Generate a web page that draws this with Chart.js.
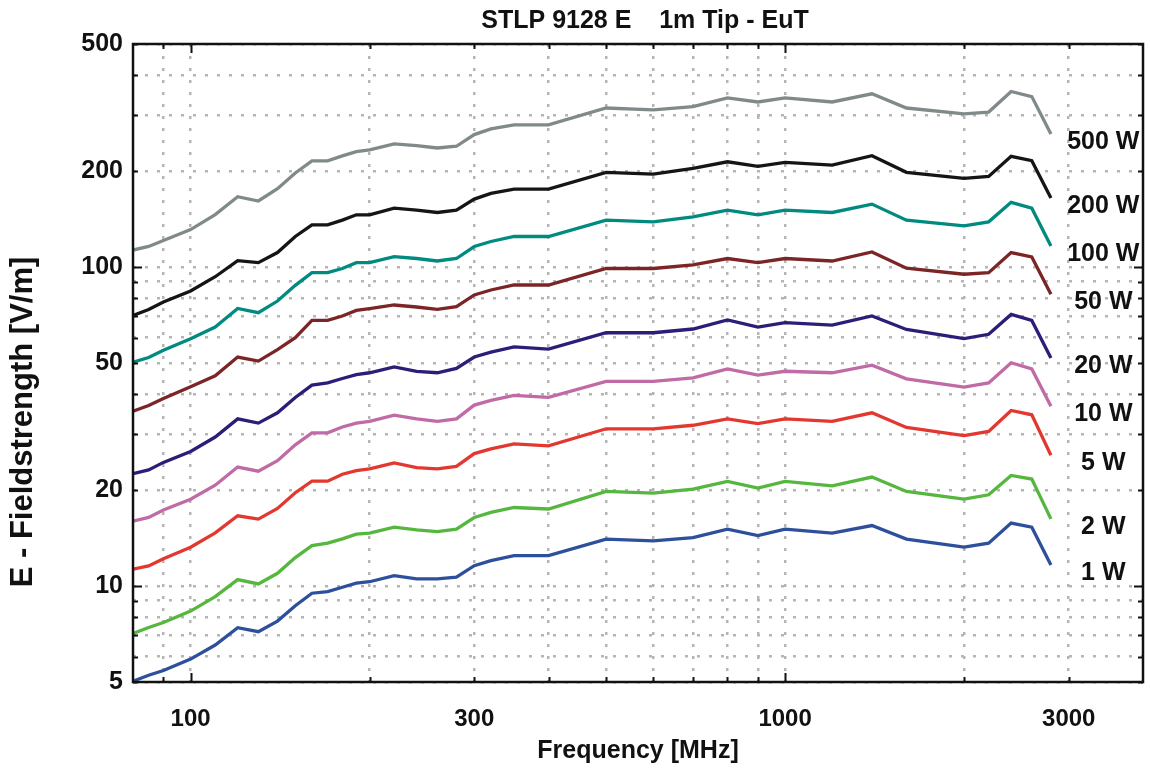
<!DOCTYPE html>
<html>
<head>
<meta charset="utf-8">
<script src="https://cdn.jsdelivr.net/npm/chart.js@4"></script>
<style>
html,body{margin:0;padding:0;background:#fff;}
#wrap{width:1150px;height:769px;position:relative;}
</style>
</head>
<body>
<div id="wrap"><canvas id="c" width="1150" height="769"></canvas></div>
<script>
// ---------- data ----------
const frequencies = [80, 85, 90, 100, 110, 120, 130, 140, 150, 160, 170, 180, 190, 200, 220, 240, 260, 280, 300, 320, 350, 400, 500, 600, 700, 800, 900, 1000, 1200, 1400, 1600, 2000, 2200, 2400, 2600, 2800];

const e500W = [113, 116, 121, 131, 146, 166, 161, 176, 197, 215, 215, 223, 230, 233, 243, 240, 236, 239, 260, 271, 279, 279, 315, 311, 318, 339, 329, 339, 329, 349, 315, 302, 306, 355, 342, 261];
const e200W = [70.5, 73.6, 77.7, 84.1, 93.2, 104.7, 103.2, 111, 124.6, 135.5, 135.5, 140.2, 145.7, 145.7, 152.9, 150.7, 148.2, 150.7, 163.2, 170.1, 175.5, 175.5, 198, 195.6, 203.8, 213.7, 206.7, 212.8, 208.7, 223.2, 198, 189.6, 192.3, 222.3, 215.3, 164.4];
const e100W = [50.3, 52.0, 54.8, 59.6, 64.8, 74.1, 71.9, 78.2, 87.6, 96.0, 96.0, 98.9, 103.2, 103.2, 107.8, 106.3, 104.4, 106.3, 115.9, 120.2, 124.6, 124.6, 140.2, 138.5, 143.6, 150.7, 145.7, 150.7, 148.2, 157.4, 140.2, 134.5, 138.5, 159.4, 152.9, 116.4];
const e50W = [35.3, 36.8, 38.7, 42.1, 45.6, 52.2, 50.7, 55.1, 60.0, 68.0, 68.0, 70.2, 73.1, 74.0, 76.0, 74.9, 73.6, 75.1, 81.7, 84.7, 87.8, 87.8, 98.9, 98.9, 101.5, 106.3, 103.2, 106.3, 104.4, 111.5, 99.1, 94.9, 96.0, 111.0, 107.5, 82.1];
const e20W = [22.5, 23.1, 24.4, 26.4, 29.3, 33.4, 32.4, 34.9, 39.0, 42.6, 43.3, 44.7, 46.0, 46.6, 48.6, 47.1, 46.6, 48.1, 52.2, 54.1, 56.2, 55.3, 62.2, 62.2, 63.9, 68.2, 64.8, 66.9, 65.7, 70.2, 63.7, 59.6, 61.5, 71.0, 68.0, 51.8];
const e10W = [15.97, 16.4, 17.3, 18.7, 20.7, 23.6, 22.9, 24.7, 27.7, 30.2, 30.2, 31.5, 32.4, 32.8, 34.3, 33.4, 32.8, 33.4, 36.9, 38.2, 39.6, 39.0, 43.8, 43.8, 44.9, 47.9, 45.8, 47.1, 46.6, 49.2, 44.6, 42.0, 43.3, 50.1, 47.9, 36.6];
const e5W = [11.29, 11.56, 12.18, 13.23, 14.67, 16.6, 16.2, 17.5, 19.6, 21.3, 21.3, 22.4, 23.0, 23.3, 24.3, 23.5, 23.3, 23.7, 26.0, 26.9, 27.9, 27.5, 31.1, 31.1, 31.9, 33.4, 32.3, 33.4, 32.8, 34.9, 31.4, 29.6, 30.5, 35.5, 34.4, 25.7];
const e2W = [7.10, 7.41, 7.68, 8.34, 9.26, 10.47, 10.15, 10.96, 12.27, 13.38, 13.62, 14.05, 14.54, 14.64, 15.29, 14.99, 14.81, 15.07, 16.39, 17.0, 17.62, 17.43, 19.78, 19.55, 20.13, 21.27, 20.27, 21.27, 20.61, 21.95, 19.78, 18.73, 19.31, 22.21, 21.64, 16.23];
const e1W = [5.03, 5.25, 5.43, 5.90, 6.53, 7.40, 7.19, 7.76, 8.67, 9.49, 9.60, 9.91, 10.2, 10.31, 10.77, 10.52, 10.52, 10.65, 11.58, 12.01, 12.45, 12.45, 14.02, 13.85, 14.18, 15.07, 14.39, 15.07, 14.64, 15.47, 14.02, 13.23, 13.62, 15.74, 15.29, 11.64];

const seriesNames = ['500 W', '200 W', '100 W', '50 W', '20 W', '10 W', '5 W', '2 W', '1 W'];
const seriesValues = [e500W, e200W, e100W, e50W, e20W, e10W, e5W, e2W, e1W];
const seriesColors = ['#808a8a', '#151515', '#008a80', '#7b2527', '#2b1d78', '#c06aa6', '#e2382f', '#55b73e', '#2e4f9c'];

const xGridValues = [90, 100, 200, 300, 400, 500, 600, 700, 800, 900, 1000, 2000, 3000];
const xMajorValues = [100, 1000];
const xLabelValues = [100, 300, 1000, 3000];
const yGridValues = [5, 6, 7, 8, 9, 10, 20, 30, 40, 50, 60, 70, 80, 90, 100, 200, 300, 400, 500];
const yMajorValues = [10, 100];
const yLabelValues = [5, 10, 20, 50, 100, 200, 500];

const titleText = 'STLP 9128 E    1m Tip - EuT';
const xTitleText = 'Frequency [MHz]';
const yTitleText = 'E - Fieldstrength [V/m]';
const seriesLabelFreq = 3430;

// ---------- chart ----------
const FONT = '"Liberation Sans", Arial, Helvetica, sans-serif';
Chart.defaults.font.family = FONT;
Chart.defaults.color = '#111';

const decor = {
  id: 'decor',
  afterDraw(chart) {
    const {ctx, chartArea: a, scales: {x, y}} = chart;
    ctx.save();
    // inward tick marks on all four sides
    ctx.strokeStyle = '#111';
    ctx.lineWidth = 2;
    ctx.beginPath();
    xGridValues.forEach(v => {
      const px = Math.round(x.getPixelForValue(v)) + 0.5;
      const len = xMajorValues.includes(v) ? 9 : 5;
      ctx.moveTo(px, a.top); ctx.lineTo(px, a.top + len);
      ctx.moveTo(px, a.bottom); ctx.lineTo(px, a.bottom - len);
    });
    yGridValues.forEach(v => {
      const py = Math.round(y.getPixelForValue(v)) + 0.5;
      const len = yMajorValues.includes(v) ? 9 : 5;
      ctx.moveTo(a.left, py); ctx.lineTo(a.left + len, py);
      ctx.moveTo(a.right, py); ctx.lineTo(a.right - len, py);
    });
    ctx.stroke();
    // frame
    ctx.lineWidth = 2.5;
    ctx.strokeRect(a.left, a.top, a.right - a.left, a.bottom - a.top);
    // series labels
    ctx.fillStyle = '#111';
    ctx.textAlign = 'center';
    ctx.textBaseline = 'middle';
    ctx.font = 'bold 25px ' + FONT;
    chart.data.datasets.forEach(ds => {
      const last = ds.data[ds.data.length - 1];
      ctx.fillText(ds.label, x.getPixelForValue(seriesLabelFreq), y.getPixelForValue(last.y) + 8);
    });
    // title
    ctx.font = 'bold 25px ' + FONT;
    ctx.fillText(titleText, 645, 21);
    // y axis title
    ctx.font = 'bold 31px ' + FONT;
    ctx.translate(23, 422);
    ctx.rotate(-Math.PI / 2);
    ctx.fillText(yTitleText, 0, 0);
    ctx.restore();
  }
};

new Chart(document.getElementById('c'), {
  type: 'line',
  data: {
    datasets: seriesNames.map((name, i) => ({
      label: name,
      data: frequencies.map((f, j) => ({x: f, y: seriesValues[i][j]})),
      borderColor: seriesColors[i],
      backgroundColor: seriesColors[i],
      borderWidth: 3.3,
      pointRadius: 0,
      tension: 0,
      fill: false
    }))
  },
  options: {
    responsive: false,
    animation: false,
    layout: {padding: {top: 44, right: 7, left: 0, bottom: 0}},
    plugins: {legend: {display: false}, tooltip: {enabled: false}, title: {display: false}},
    scales: {
      x: {
        type: 'logarithmic',
        min: 80, max: 4000,
        afterFit: s => { s.height = 87; },
        afterBuildTicks: s => { s.ticks = xGridValues.map(v => ({value: v})); },
        grid: {color: '#b5b5b5', lineWidth: 2.5, drawTicks: false},
        border: {display: false, dash: [3, 9]},
        ticks: {
          autoSkip: false, maxRotation: 0, padding: 23,
          font: {size: 24, weight: 'bold'}, color: '#111',
          callback: v => xLabelValues.includes(v) ? String(v) : ''
        },
        title: {display: true, text: xTitleText, font: {size: 25, weight: 'bold'}, color: '#111', padding: {top: 0, bottom: 3}}
      },
      y: {
        type: 'logarithmic',
        min: 5, max: 500,
        afterFit: s => { s.width = 133; },
        afterBuildTicks: s => { s.ticks = yGridValues.map(v => ({value: v})); },
        grid: {color: '#b5b5b5', lineWidth: 2.5, drawTicks: false},
        border: {display: false, dash: [3, 9]},
        ticks: {
          autoSkip: false, padding: 10,
          font: {size: 25, weight: 'bold'}, color: '#111',
          callback: v => yLabelValues.includes(v) ? String(v) : ''
        }
      }
    }
  },
  plugins: [decor]
});
</script>
</body>
</html>
